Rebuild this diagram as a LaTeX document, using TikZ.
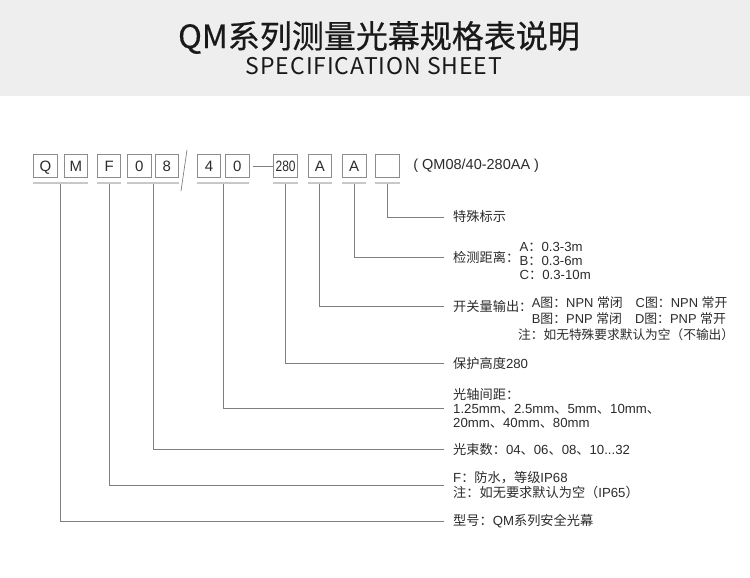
\documentclass[tikz,border=0pt]{standalone}
\usepackage{fontspec}
\usepackage{graphicx}
\setmainfont{Liberation Sans}
\newfontfamily\cjk{Noto Sans CJK SC}
\newfontfamily\cjkhead[FakeBold=0.6]{Noto Sans CJK SC}
\newfontfamily\cjksub[LetterSpace=4]{Noto Sans CJK SC}
\newcommand\zh[1]{{\cjk #1}}
\usetikzlibrary{positioning, calc}
\definecolor{bandgray}{HTML}{EEEEEE}
\definecolor{leadgray}{HTML}{7F7F7F}
\definecolor{boxgray}{HTML}{8C8C8C}
\definecolor{shadegray}{HTML}{C8C8C8}
\definecolor{textgray}{HTML}{2B2B2B}

\begin{document}
\begin{tikzpicture}[x=1pt, y=-1pt,
    cell/.style={rectangle, draw=boxgray, line width=0.8pt, minimum width=23.5pt, minimum height=23.5pt, inner sep=0pt, text height=10.7pt, text depth=0pt, font=\fontsize{15}{15}\selectfont, text=textgray},
    lead/.style={draw=leadgray, line width=0.9pt},
    shade/.style={draw=shadegray, line width=2pt},
    lbl/.style={anchor=west, inner sep=0pt, align=left, text=textgray, font=\fontsize{13.2}{14}\selectfont}
]
    \useasboundingbox (0,0) rectangle (750,578);
    % header band
    \fill[bandgray] (0,0) rectangle (750,96);
    \node[font=\cjkhead\fontsize{32}{32}\selectfont, text=black!90] (title) at (379,37.5) {QM系列测量光幕规格表说明};
    \node[font=\cjksub\fontsize{23}{23}\selectfont, text=black!90] (subtitle) at (374,66) {SPECIFICATION SHEET};

    % model code boxes
    \node[cell] (q) at (45.5,166) {Q};
    \node[cell, right=6pt of q] (m) {M};
    \node[cell, right=9pt of m] (f) {F};
    \node[cell, right=6pt of f] (n0) {0};
    \node[cell, right=3pt of n0] (n8) {8};
    \node[cell, right=18pt of n8] (n4) {4};
    \node[cell, right=4pt of n4] (n0b) {0};
    \node[cell, right=24pt of n0b] (h) {\scalebox{0.8}[1]{280}};
    \node[cell, right=10pt of h] (a1) {A};
    \node[cell, right=10pt of a1] (a2) {A};
    \node[cell, right=9pt of a2] (sp) {};
    \node[lbl, font=\fontsize{14.5}{14.5}\selectfont, right=13.5pt of sp] (code) {( QM08/40-280AA )};

    \foreach \a/\b in {q/m, f/f, n0/n8, n4/n0b, h/h, a1/a1, a2/a2, sp/sp}
        \draw[shade] ([yshift=-5pt]\a.south west) -- ([yshift=-5pt]\b.south east);
    \draw[lead, line width=0.7pt] (187,150) -- (181,191);
    \draw[lead] ([xshift=3.5pt]n0b.east) -- (h.west);

    % labels
    \node[lbl] (ts) at (453,217) {\zh{特殊标示}};
    \node[lbl] (jc) at (453,257) {\zh{检测距离：}};
    \node[lbl, right=0pt of jc, yshift=-4pt] (jcl) {A\zh{：}0.3-3m\\B\zh{：}0.3-6m\\C\zh{：}0.3-10m};
    \node[lbl] (kg) at (453,306) {\zh{开关量输出：}};
    \node[lbl, right=-1pt of kg, yshift=-5pt, font=\fontsize{12.9}{16}\selectfont] (kgl)
        {A\zh{图：}NPN \zh{常闭}\quad C\zh{图：}NPN \zh{常开}\\B\zh{图：}PNP \zh{常闭}\quad D\zh{图：}PNP \zh{常开}};
    \node[lbl, font=\fontsize{12.7}{14}\selectfont] (kgn) at (518,335) {\zh{注：如无特殊要求默认为空（不输出）}};
    \node[lbl] (bh) at (453,363) {\zh{保护高度}280};
    \node[lbl] (gz) at (453,408) {\zh{光轴间距：}\\1.25mm\zh{、}2.5mm\zh{、}5mm\zh{、}10mm\zh{、}\\20mm\zh{、}40mm\zh{、}80mm};
    \node[lbl] (gs) at (453,449) {\zh{光束数：}04\zh{、}06\zh{、}08\zh{、}10...32};
    \node[lbl, font=\fontsize{13.2}{15}\selectfont] (fs) at (453,485.5) {F\zh{：防水，等级}IP68\\\zh{注：如无要求默认为空（}IP65\zh{）}};
    \node[lbl] (xh) at (453,521) {\zh{型号：}QM\zh{系列安全光幕}};

    % leads
    \draw[lead] ([yshift=-6pt]sp.south) |- ([xshift=-9pt]ts.west);
    \draw[lead] ([yshift=-6pt]a2.south) |- ([xshift=-9pt]jc.west);
    \draw[lead] ([yshift=-6pt]a1.south) |- ([xshift=-9pt]kg.west);
    \draw[lead] ([yshift=-6pt]h.south) |- ([xshift=-9pt]bh.west);
    \draw[lead] ($(n4.south east)!.5!(n0b.south west)+(0,6)$) |- ([xshift=-9pt]gz.west);
    \draw[lead] ($(n0.south east)!.5!(n8.south west)+(0,6)$) |- ([xshift=-9pt]gs.west);
    \draw[lead] ([yshift=-6pt]f.south) |- ([xshift=-9pt]fs.west);
    \draw[lead] ($(q.south east)!.5!(m.south west)+(0,6)$) |- ([xshift=-9pt]xh.west);
\end{tikzpicture}
\end{document}
